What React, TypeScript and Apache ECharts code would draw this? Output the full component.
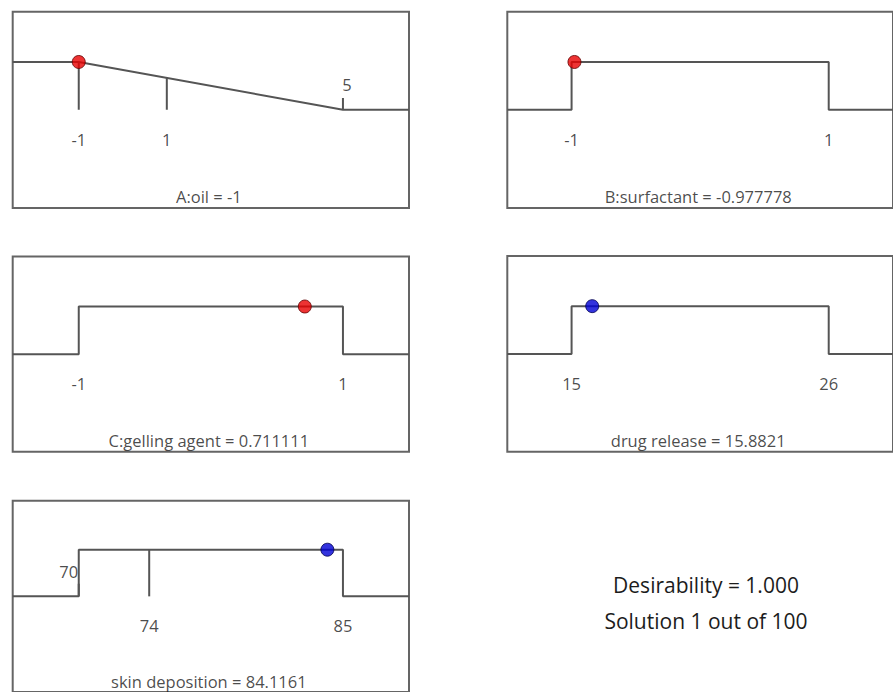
import React, { useEffect, useRef } from "react";
import * as echarts from "echarts";

// ---------- data ----------
const panelTitles = [
  "A:oil = -1",
  "B:surfactant = -0.977778",
  "C:gelling agent = 0.711111",
  "drug release = 15.8821",
  "skin deposition = 84.1161",
];
const lowLimits = [-1, -1, -1, 15, 70];
const highLimits = [5, 1, 1, 26, 85];
const solutionValues = [-1, -0.977778, 0.711111, 15.8821, 84.1161];
const solutionDesirability = [1, 1, 1, 1, 1];
const goalTypes = ["ramp-down", "range", "range", "range", "range"];
const isResponse = [false, false, false, true, true];
// extra tick marks: [value, top of tick (desirability units)]
const tickMarks: number[][][] = [
  [[-1, 1], [1, 0.667], [5, 0.25]],
  [],
  [],
  [],
  [[74, 1], [70, 0.27]],
];
const tickLabelValues = [
  [-1, 1, 5],
  [-1, 1],
  [-1, 1],
  [15, 26],
  [70, 74, 85],
];
const tickLabelTexts = [
  ["-1", "1", "5"],
  ["-1", "1"],
  ["-1", "1"],
  ["15", "26"],
  ["70", "74", "85"],
];
const summaryLines = ["Desirability = 1.000", "Solution 1 out of 100"];

// ---------- layout ----------
const boxes = [
  { left: 12.7, top: 11.7, width: 396.3, height: 196.3 },
  { left: 507.3, top: 11.7, width: 399, height: 196.3 },
  { left: 12.7, top: 256.5, width: 396.3, height: 195.3 },
  { left: 507.3, top: 256, width: 399, height: 195.8 },
  { left: 12.7, top: 500.7, width: 396.3, height: 196.3 },
];
const YMIN = -2.05;
const YMAX = 2.05;
const FONT = "Open Sans";
const LINE = "#555555";
const TEXT = "#1c1c1c";

function buildOption() {
  const grid: any[] = [];
  const xAxis: any[] = [];
  const yAxis: any[] = [];
  const series: any[] = [];

  panelTitles.forEach((title, i) => {
    const L = lowLimits[i];
    const H = highLimits[i];
    const S = H - L;
    const xmin = L - 0.25 * S;
    const xmax = H + 0.25 * S;
    grid.push({
      ...boxes[i],
      show: true,
      borderColor: "#656565",
      borderWidth: 2,
      backgroundColor: "transparent",
      containLabel: false,
    });
    xAxis.push({ type: "value", gridIndex: i, min: xmin, max: xmax, show: false });
    yAxis.push({ type: "value", gridIndex: i, min: YMIN, max: YMAX, show: false });

    const lineData =
      goalTypes[i] === "ramp-down"
        ? [[xmin, 1], [L, 1], [H, 0], [xmax, 0]]
        : [[xmin, 0], [L, 0], [L, 1], [H, 1], [H, 0], [xmax, 0]];
    series.push({
      type: "line",
      xAxisIndex: i,
      yAxisIndex: i,
      data: lineData,
      symbol: "none",
      silent: true,
      lineStyle: { color: LINE, width: 2 },
      z: 2,
    });

    tickMarks[i].forEach(([v, top]) => {
      series.push({
        type: "line",
        xAxisIndex: i,
        yAxisIndex: i,
        data: [[v, 0], [v, top]],
        symbol: "none",
        silent: true,
        lineStyle: { color: LINE, width: 2 },
        z: 2,
      });
    });

    const labelData = tickLabelValues[i].map((v, k) => {
      const tm = tickMarks[i].find((t) => t[0] === v);
      const above = tm && tm[1] < 0.5;
      const isLeftOfStep = above && v === L;
      return {
        value: [v, above ? 0.53 : -0.62],
        name: tickLabelTexts[i][k],
        label: { offset: [above ? (isLeftOfStep ? -10 : 4) : 0, 0] },
      };
    });
    series.push({
      type: "scatter",
      xAxisIndex: i,
      yAxisIndex: i,
      symbolSize: 0,
      silent: true,
      data: labelData,
      label: {
        show: true,
        position: "inside",
        formatter: (p: any) => p.name,
        color: TEXT,
        fontFamily: FONT,
        fontSize: 16.5,
      },
      z: 3,
    });

    series.push({
      type: "scatter",
      xAxisIndex: i,
      yAxisIndex: i,
      symbolSize: 0,
      silent: true,
      data: [{ value: [(xmin + xmax) / 2 - 0.005 * (xmax - xmin), -1.82], name: title }],
      label: {
        show: true,
        position: "inside",
        formatter: (p: any) => p.name,
        color: TEXT,
        fontFamily: FONT,
        fontSize: 16.5,
      },
      z: 3,
    });

    series.push({
      type: "scatter",
      xAxisIndex: i,
      yAxisIndex: i,
      symbol: "circle",
      symbolSize: 13,
      silent: true,
      data: [[solutionValues[i], solutionDesirability[i]]],
      itemStyle: isResponse[i]
        ? { color: "#0000d4", borderColor: "#000050", borderWidth: 1 }
        : { color: "#e80000", borderColor: "#600000", borderWidth: 1 },
      z: 5,
    });
  });

  return {
    animation: false,
    backgroundColor: "#ffffff",
    grid,
    xAxis,
    yAxis,
    series,
    graphic: summaryLines.map((t, k) => ({
      type: "text",
      x: 706,
      y: 585 + k * 36,
      style: {
        text: t,
        fill: TEXT,
        font: `21px "${FONT}"`,
        textAlign: "center",
        textVerticalAlign: "middle",
      },
    })),
  };
}

export default function App() {
  const ref = useRef<HTMLDivElement>(null);
  useEffect(() => {
    if (!ref.current) return;
    const chart = echarts.init(ref.current, undefined, { renderer: "svg" });
    chart.setOption(buildOption() as any);
    return () => chart.dispose();
  }, []);
  return (
    <div
      ref={ref}
      style={{ position: "absolute", left: 0, top: 0, width: 893, height: 692 }}
    />
  );
}
